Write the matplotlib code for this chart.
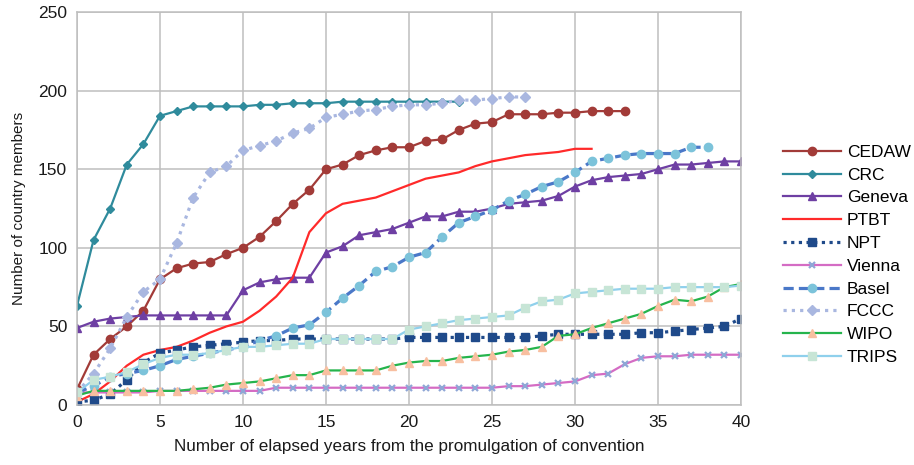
import matplotlib
matplotlib.use("Agg")
import matplotlib.pyplot as plt
import numpy as np

plt.rcParams["font.family"] = ["Liberation Sans", "DejaVu Sans"]

# Country members per elapsed year (index = years since promulgation)
cedaw = [10, 32, 42, 50, 60, 80, 87, 90, 91, 96,
         100, 107, 117, 128, 137, 150, 153, 159, 162, 164,
         164, 168, 169, 175, 179, 180, 185, 185, 185, 186,
         186, 187, 187, 187]
crc = [63, 105, 125, 153, 166, 184, 187, 190, 190, 190,
       190, 191, 191, 192, 192, 192, 193, 193, 193, 193,
       193, 193, 193, 193]
geneva = [49, 53, 55, 56, 57, 57, 57, 57, 57, 57,
          73, 78, 80, 81, 81, 97, 101, 108, 110, 112,
          116, 120, 120, 123, 123, 125, 128, 129, 130, 133,
          139, 143, 145, 146, 147, 150, 153, 153, 154, 155,
          155]
ptbt = [2, 7, 15, 25, 32, 35, 37, 41, 46, 50,
        53, 60, 69, 81, 110, 122, 128, 130, 132, 136,
        140, 144, 146, 148, 152, 155, 157, 159, 160, 161,
        163, 163]
npt = [2, 3, 7, 16, 27, 33, 35, 37, 38, 39,
       40, 41, 41, 42, 42, 42, 42, 42, 42, 42,
       43, 43, 43, 43, 43, 43, 43, 43, 44, 45,
       45, 45, 45, 45, 46, 46, 47, 48, 49, 50,
       55]
vienna = [8, 8, 8, 8, 8, 9, 9, 9, 9, 9,
          9, 9, 11, 11, 11, 11, 11, 11, 11, 11,
          11, 11, 11, 11, 11, 11, 12, 12, 13, 14,
          15, 19, 20, 26, 30, 31, 31, 32, 32, 32,
          32]
basel = [8, 12, 18, 20, 22, 25, 29, 31, 33, 35,
         37, 41, 44, 49, 51, 59, 68, 76, 85, 88,
         94, 97, 107, 116, 120, 124, 130, 134, 139, 142,
         148, 155, 157, 159, 160, 160, 160, 164, 164]
fccc = [8, 20, 36, 56, 72, 80, 103, 132, 148, 152,
        162, 165, 168, 173, 176, 183, 185, 187, 188, 190,
        191, 191, 192, 194, 194, 195, 196, 196]
wipo = [6, 9, 9, 9, 9, 9, 9, 10, 11, 13,
        14, 15, 17, 19, 19, 22, 22, 22, 22, 25,
        27, 28, 28, 30, 31, 32, 34, 35, 37, 44,
        45, 49, 52, 55, 58, 63, 67, 66, 69, 75,
        77]
trips = [8, 16, 18, 21, 26, 30, 32, 32, 33, 35,
         37, 37, 38, 39, 39, 42, 42, 42, 42, 42,
         48, 50, 52, 54, 55, 56, 57, 62, 66, 67,
         71, 72, 73, 74, 74, 74, 75, 75, 75, 75,
         76]

# name, values, line colour, linestyle, marker, marker face, marker size
series = [
    ("CEDAW", cedaw, "#A23B38", "-", "o", "#A23B38", 6),
    ("CRC", crc, "#2F8B9C", "-", "D", "#2F8B9C", 4.5),
    ("Geneva", geneva, "#6E3FA3", "-", "^", "#6E3FA3", 6),
    ("PTBT", ptbt, "#FF2A2A", "-", None, None, 0),
    ("NPT", npt, "#1F4A8A", (0, (1, 1.4)), "s", "#1F4A8A", 5.5),
    ("Vienna", vienna, "#D46CC4", "-", "x", "#8FA7D6", 5),
    ("Basel", basel, "#4A78C8", (0, (3.2, 1.6)), "o", "#7CC3DA", 6),
    ("FCCC", fccc, "#A9B7E0", (0, (1, 1.6)), "D", "#A9B7E0", 5),
    ("WIPO", wipo, "#25B44C", "-", "^", "#F8BFA0", 5.5),
    ("TRIPS", trips, "#8FD0EC", "-", "s", "#C7E5D6", 5.5),
]

fig = plt.figure(figsize=(9.14, 4.65), dpi=100)
ax = fig.add_axes([0.0842, 0.129, 0.7265, 0.845])

for name, vals, color, ls, marker, mface, msize in series:
    x = np.arange(len(vals))
    lw = 2.3 if name in ("NPT", "Basel", "FCCC") else 1.6
    if marker is None:
        ax.plot(x, vals, color=color, linestyle=ls, linewidth=lw, label=name)
    elif marker == "x":
        ax.plot(x, vals, color=color, linestyle=ls, linewidth=lw,
                marker=marker, markersize=msize, markeredgecolor=mface,
                markeredgewidth=1.6, label=name)
    else:
        ax.plot(x, vals, color=color, linestyle=ls, linewidth=lw,
                marker=marker, markersize=msize, markerfacecolor=mface,
                markeredgecolor=mface, label=name)

ax.set_xlim(0, 40)
ax.set_ylim(0, 250)
ax.set_xticks(np.arange(0, 41, 5))
ax.set_yticks(np.arange(0, 251, 50))
ax.grid(True, color="#BEBEBE", linewidth=1.1)
ax.set_axisbelow(True)
for sp in ax.spines.values():
    sp.set_color("#BEBEBE")
    sp.set_linewidth(1.1)
ax.tick_params(length=0, labelsize=12.5, pad=7, colors="#1A1A1A")

ax.set_xlabel("Number of elapsed years from the promulgation of convention",
              fontsize=12.3, labelpad=7, color="#1A1A1A")
ax.set_ylabel("Number of country members", fontsize=11, labelpad=9,
              color="#1A1A1A")

fig.legend(loc="center left", bbox_to_anchor=(0.857, 0.452), frameon=False,
           fontsize=12.5, handlelength=3.3, handletextpad=0.35,
           labelspacing=0.44, borderpad=0, borderaxespad=0)

fig.savefig("out.png", dpi=100, facecolor="white")
